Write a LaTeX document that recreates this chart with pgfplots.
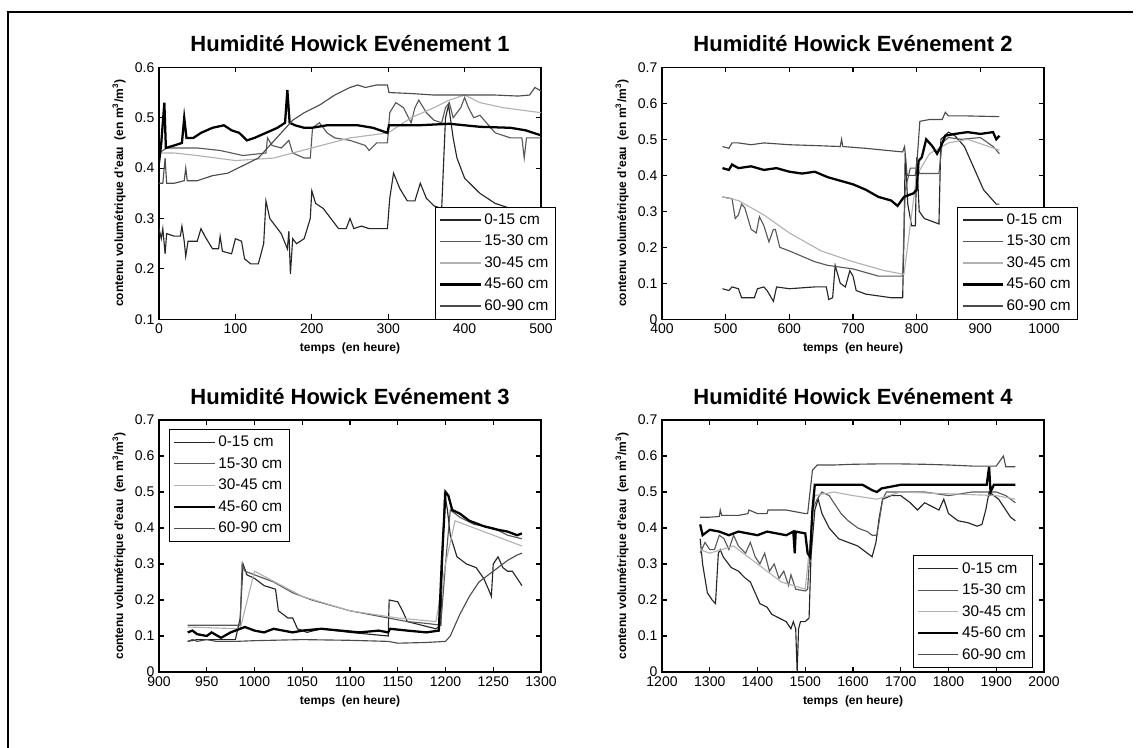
\documentclass[border=0pt]{standalone}
\usepackage{fontspec}
\setmainfont{Liberation Sans}
\usepackage{pgfplots}
\pgfplotsset{compat=1.18}

% niveaux de gris des cinq profondeurs
\definecolor{cA}{gray}{0.15}
\definecolor{cB}{gray}{0.35}
\definecolor{cC}{gray}{0.70}
\definecolor{cD}{gray}{0.0}
\definecolor{cE}{gray}{0.30}

\pgfplotsset{
  hw/.style={
    scale only axis, width=286.5pt, height=189pt,
    axis line style={line width=1.1pt},
    tick style={line width=0.8pt, black},
    major tick length=3.75pt,
    tick label style={font=\fontsize{10.5}{12}\selectfont},
    /pgf/number format/assume math mode=true,
    /pgf/number format/1000 sep={},
    y tick label style={/pgf/number format/.cd, fixed, precision=1},
    title style={font=\bfseries\fontsize{16.5}{18}\selectfont, yshift=2pt},
    label style={font=\bfseries\fontsize{9}{10}\selectfont},
    xlabel={temps\ \ (en heure)},
    ylabel={contenu volumétrique d'eau\ \ (en m\textsuperscript{3}/m\textsuperscript{3})},
    legend style={draw=black, fill=white,
      font=\fontsize{11.5}{13.5}\selectfont, row sep=2.6pt, inner sep=3pt},
    legend cell align=left,
    legend image code/.code={\draw[#1] (0cm,0cm) -- (1.06cm,0cm);},
  },
  s1/.style={cA, line width=0.85pt},
  s2/.style={cB, line width=0.85pt},
  s3/.style={cC, line width=0.85pt},
  s4/.style={cD, line width=1.7pt},
  s5/.style={cE, line width=0.85pt},
}

\begin{document}
\begin{tikzpicture}
\path[use as bounding box] (0,0) rectangle (855.75pt,561pt);
\draw[line width=1.3pt] (6pt,0) -- (6pt,552pt) -- (849.75pt,552pt);

% ---------------- Evenement 1
\begin{axis}[hw, at={(119.25pt,321.5pt)}, anchor=south west,
  title={Humidité Howick Evénement 1},
  xmin=0, xmax=500, ymin=0.1, ymax=0.6,
  xtick={0,100,...,500}, ytick={0.1,0.2,...,0.6},
  legend style={at={(0.7225,0)}, anchor=south west}]
\addplot[s1] coordinates {(0,0.28)(3,0.26)(5,0.28)(8,0.23)(10,0.27)(20,0.265)(28,0.265)(30,0.285)(33,0.255)(35,0.225)(38,0.255)(50,0.255)(55,0.28)(60,0.265)(70,0.24)(78,0.24)(80,0.265)(83,0.235)(95,0.23)(100,0.26)(108,0.255)(112,0.22)(120,0.21)(130,0.21)(137,0.25)(140,0.335)(145,0.3)(160,0.27)(168,0.24)(170,0.275)(172,0.19)(175,0.26)(180,0.25)(190,0.26)(198,0.3)(200,0.355)(205,0.33)(215,0.32)(225,0.3)(235,0.28)(245,0.28)(250,0.3)(255,0.28)(265,0.285)(275,0.28)(290,0.28)(299,0.28)(302,0.34)(307,0.39)(315,0.36)(325,0.335)(335,0.335)(342,0.37)(350,0.34)(360,0.325)(370,0.32)(375,0.5)(379,0.525)(385,0.46)(390,0.42)(400,0.38)(420,0.35)(440,0.33)(460,0.32)(480,0.31)(500,0.30)};
\addlegendentry{0-15 cm}
\addplot[s2] coordinates {(0,0.43)(10,0.44)(30,0.44)(50,0.44)(80,0.435)(110,0.425)(140,0.43)(142,0.46)(148,0.445)(160,0.44)(170,0.455)(175,0.43)(190,0.42)(198,0.42)(201,0.48)(210,0.49)(220,0.47)(230,0.46)(250,0.455)(270,0.445)(275,0.435)(285,0.45)(299,0.45)(302,0.51)(310,0.53)(320,0.52)(330,0.49)(335,0.52)(340,0.535)(350,0.51)(360,0.495)(370,0.49)(375,0.52)(380,0.53)(385,0.5)(395,0.52)(400,0.54)(405,0.52)(412,0.5)(420,0.505)(440,0.47)(460,0.46)(475,0.46)(478,0.42)(481,0.46)(500,0.46)};
\addlegendentry{15-30 cm}
\addplot[s3] coordinates {(0,0.43)(20,0.43)(50,0.425)(100,0.415)(150,0.42)(200,0.44)(250,0.46)(300,0.47)(330,0.5)(360,0.52)(380,0.535)(400,0.545)(420,0.53)(450,0.52)(500,0.51)};
\addlegendentry{30-45 cm}
\addplot[s4] coordinates {(0,0.41)(3,0.45)(7,0.53)(9,0.44)(20,0.445)(30,0.45)(33,0.5)(36,0.46)(45,0.46)(55,0.47)(70,0.48)(85,0.485)(95,0.475)(105,0.47)(115,0.455)(125,0.46)(140,0.47)(155,0.48)(165,0.49)(168,0.555)(171,0.49)(178,0.485)(190,0.48)(200,0.48)(220,0.485)(260,0.485)(280,0.48)(299,0.47)(301,0.485)(340,0.485)(380,0.488)(420,0.482)(460,0.48)(480,0.475)(490,0.47)(500,0.465)};
\addlegendentry{45-60 cm}
\addplot[s5] coordinates {(0,0.37)(5,0.37)(8,0.42)(10,0.37)(20,0.37)(33,0.375)(35,0.40)(37,0.375)(50,0.375)(70,0.385)(90,0.39)(110,0.405)(130,0.42)(145,0.445)(160,0.47)(175,0.495)(190,0.51)(210,0.525)(230,0.545)(250,0.56)(260,0.565)(270,0.56)(285,0.565)(299,0.565)(301,0.55)(330,0.548)(360,0.545)(400,0.545)(440,0.545)(470,0.543)(485,0.545)(492,0.56)(500,0.553)};
\addlegendentry{60-90 cm}
\end{axis}

% ---------------- Evenement 2
\begin{axis}[hw, at={(496.5pt,321.5pt)}, anchor=south west,
  title={Humidité Howick Evénement 2},
  xmin=400, xmax=1000, ymin=0, ymax=0.7,
  xtick={400,500,...,1000}, ytick={0,0.1,...,0.7},
  legend style={at={(0.773,0)}, anchor=south west}]
\addplot[s1] coordinates {(495,0.085)(505,0.08)(510,0.09)(520,0.085)(525,0.06)(545,0.06)(550,0.085)(560,0.09)(565,0.08)(575,0.05)(580,0.09)(600,0.085)(640,0.09)(658,0.09)(662,0.055)(668,0.06)(672,0.15)(680,0.1)(688,0.09)(695,0.135)(700,0.12)(705,0.08)(720,0.07)(760,0.06)(778,0.06)(780,0.23)(782,0.46)(786,0.32)(792,0.26)(798,0.26)(800,0.45)(804,0.3)(812,0.28)(835,0.265)(838,0.5)(850,0.52)(860,0.51)(875,0.48)(885,0.44)(895,0.4)(905,0.36)(915,0.34)(925,0.32)(930,0.32)};
\addlegendentry{0-15 cm}
\addplot[s2] coordinates {(495,0.34)(510,0.335)(515,0.28)(520,0.29)(525,0.32)(530,0.31)(540,0.25)(548,0.24)(553,0.285)(560,0.26)(568,0.215)(575,0.25)(578,0.25)(585,0.2)(600,0.19)(620,0.175)(640,0.16)(660,0.15)(680,0.145)(700,0.14)(720,0.13)(740,0.12)(760,0.12)(778,0.12)(782,0.36)(790,0.42)(800,0.42)(805,0.405)(835,0.405)(840,0.49)(850,0.505)(870,0.5)(900,0.505)(920,0.48)(930,0.46)};
\addlegendentry{15-30 cm}
\addplot[s3] coordinates {(495,0.34)(520,0.33)(560,0.29)(600,0.24)(650,0.19)(700,0.16)(750,0.135)(780,0.125)(800,0.4)(820,0.46)(850,0.49)(880,0.5)(930,0.47)};
\addlegendentry{30-45 cm}
\addplot[s4] coordinates {(495,0.42)(505,0.415)(510,0.43)(520,0.42)(540,0.425)(560,0.415)(580,0.42)(600,0.41)(620,0.405)(640,0.41)(660,0.395)(680,0.385)(700,0.375)(720,0.36)(740,0.34)(760,0.33)(770,0.315)(780,0.34)(795,0.35)(800,0.36)(803,0.44)(808,0.45)(815,0.5)(825,0.48)(832,0.46)(838,0.48)(845,0.51)(860,0.515)(880,0.52)(900,0.515)(920,0.52)(925,0.5)(930,0.51)};
\addlegendentry{45-60 cm}
\addplot[s5] coordinates {(495,0.48)(505,0.475)(510,0.49)(520,0.49)(540,0.485)(560,0.49)(600,0.485)(650,0.482)(680,0.48)(682,0.5)(684,0.48)(720,0.475)(760,0.468)(778,0.465)(781,0.48)(785,0.4)(798,0.4)(801,0.45)(805,0.55)(820,0.555)(840,0.555)(845,0.575)(850,0.565)(880,0.565)(930,0.563)};
\addlegendentry{60-90 cm}
\end{axis}

% ---------------- Evenement 3
\begin{axis}[hw, at={(119.25pt,57pt)}, anchor=south west,
  title={Humidité Howick Evénement 3},
  xmin=900, xmax=1300, ymin=0, ymax=0.7,
  xtick={900,950,...,1300}, ytick={0,0.1,...,0.7},
  legend style={at={(0.026,0.964)}, anchor=north west}]
\addplot[s1] coordinates {(930,0.085)(940,0.09)(960,0.09)(980,0.09)(985,0.15)(988,0.3)(992,0.27)(1000,0.26)(1010,0.24)(1022,0.23)(1025,0.17)(1035,0.15)(1040,0.15)(1045,0.12)(1055,0.11)(1070,0.12)(1100,0.11)(1120,0.105)(1140,0.1)(1141,0.2)(1150,0.195)(1155,0.17)(1160,0.14)(1175,0.13)(1190,0.12)(1195,0.13)(1199,0.5)(1202,0.45)(1205,0.38)(1212,0.32)(1222,0.3)(1232,0.29)(1240,0.26)(1245,0.23)(1248,0.21)(1250,0.3)(1255,0.32)(1260,0.29)(1265,0.28)(1270,0.28)(1275,0.26)(1280,0.24)};
\addlegendentry{0-15 cm}
\addplot[s2] coordinates {(930,0.13)(960,0.13)(985,0.13)(987,0.3)(990,0.28)(1000,0.27)(1020,0.25)(1040,0.22)(1060,0.2)(1080,0.185)(1100,0.17)(1120,0.16)(1140,0.15)(1160,0.14)(1180,0.135)(1195,0.13)(1200,0.3)(1205,0.45)(1215,0.43)(1230,0.41)(1250,0.4)(1265,0.38)(1280,0.37)};
\addlegendentry{15-30 cm}
\addplot[s3] coordinates {(930,0.125)(985,0.12)(1000,0.28)(1050,0.21)(1100,0.17)(1150,0.15)(1190,0.14)(1200,0.3)(1210,0.42)(1240,0.39)(1260,0.37)(1280,0.35)};
\addlegendentry{30-45 cm}
\addplot[s4] coordinates {(930,0.11)(935,0.115)(940,0.105)(950,0.1)(955,0.11)(965,0.095)(975,0.11)(985,0.12)(990,0.125)(1000,0.115)(1010,0.11)(1020,0.12)(1030,0.115)(1040,0.11)(1050,0.115)(1070,0.12)(1090,0.115)(1110,0.11)(1130,0.115)(1140,0.11)(1142,0.12)(1160,0.115)(1180,0.11)(1193,0.115)(1196,0.3)(1200,0.5)(1203,0.49)(1207,0.45)(1215,0.44)(1225,0.42)(1240,0.405)(1255,0.395)(1265,0.39)(1275,0.38)(1280,0.385)};
\addlegendentry{45-60 cm}
\addplot[s5] coordinates {(930,0.085)(935,0.09)(940,0.085)(950,0.09)(960,0.085)(980,0.085)(1000,0.087)(1050,0.09)(1100,0.088)(1140,0.085)(1150,0.08)(1180,0.082)(1200,0.085)(1205,0.1)(1215,0.16)(1225,0.21)(1235,0.25)(1245,0.27)(1255,0.29)(1265,0.31)(1275,0.325)(1280,0.33)};
\addlegendentry{60-90 cm}
\end{axis}

% ---------------- Evenement 4
\begin{axis}[hw, at={(496.5pt,57pt)}, anchor=south west,
  title={Humidité Howick Evénement 4},
  xmin=1200, xmax=2000, ymin=0, ymax=0.7,
  xtick={1200,1300,...,2000}, ytick={0,0.1,...,0.7},
  legend style={at={(0.971,0.016)}, anchor=south east}]
\addplot[s1] coordinates {(1280,0.37)(1285,0.3)(1295,0.22)(1305,0.2)(1312,0.19)(1318,0.33)(1322,0.34)(1328,0.32)(1345,0.29)(1360,0.28)(1375,0.26)(1385,0.25)(1395,0.22)(1405,0.19)(1420,0.18)(1430,0.16)(1445,0.15)(1460,0.14)(1470,0.12)(1475,0.14)(1480,0.12)(1483,0.0)(1486,0.12)(1490,0.14)(1500,0.14)(1508,0.15)(1512,0.32)(1520,0.45)(1527,0.48)(1535,0.44)(1550,0.4)(1570,0.37)(1590,0.36)(1610,0.35)(1630,0.33)(1640,0.32)(1648,0.36)(1655,0.43)(1662,0.48)(1680,0.49)(1700,0.49)(1720,0.47)(1735,0.45)(1750,0.47)(1765,0.46)(1780,0.45)(1790,0.48)(1800,0.44)(1820,0.42)(1840,0.415)(1860,0.405)(1870,0.41)(1878,0.45)(1885,0.5)(1895,0.49)(1905,0.48)(1915,0.46)(1930,0.43)(1940,0.42)};
\addlegendentry{0-15 cm}
\addplot[s2] coordinates {(1280,0.33)(1290,0.36)(1300,0.34)(1310,0.34)(1320,0.38)(1330,0.37)(1340,0.34)(1350,0.38)(1360,0.35)(1375,0.33)(1385,0.36)(1395,0.32)(1405,0.3)(1415,0.33)(1425,0.28)(1435,0.3)(1445,0.26)(1455,0.28)(1465,0.24)(1470,0.27)(1480,0.23)(1500,0.225)(1505,0.23)(1510,0.34)(1515,0.45)(1525,0.48)(1535,0.5)(1550,0.49)(1560,0.47)(1575,0.44)(1590,0.42)(1610,0.4)(1630,0.39)(1640,0.38)(1650,0.38)(1655,0.42)(1662,0.48)(1670,0.5)(1700,0.5)(1750,0.5)(1800,0.49)(1850,0.5)(1900,0.5)(1920,0.49)(1930,0.48)(1940,0.47)};
\addlegendentry{15-30 cm}
\addplot[s3] coordinates {(1280,0.34)(1300,0.33)(1350,0.35)(1400,0.3)(1450,0.25)(1500,0.23)(1520,0.49)(1560,0.5)(1600,0.49)(1650,0.48)(1700,0.5)(1800,0.495)(1900,0.49)(1940,0.48)};
\addlegendentry{30-45 cm}
\addplot[s4] coordinates {(1280,0.41)(1285,0.38)(1300,0.395)(1320,0.39)(1340,0.38)(1360,0.39)(1380,0.385)(1400,0.38)(1420,0.39)(1440,0.385)(1460,0.38)(1475,0.39)(1478,0.33)(1480,0.39)(1500,0.385)(1505,0.33)(1510,0.32)(1515,0.45)(1520,0.52)(1540,0.52)(1580,0.52)(1620,0.52)(1640,0.505)(1650,0.5)(1660,0.51)(1680,0.515)(1700,0.52)(1750,0.52)(1800,0.52)(1850,0.52)(1880,0.52)(1885,0.57)(1888,0.5)(1895,0.52)(1940,0.52)};
\addlegendentry{45-60 cm}
\addplot[s5] coordinates {(1280,0.43)(1300,0.43)(1320,0.432)(1322,0.45)(1325,0.435)(1360,0.435)(1380,0.44)(1382,0.45)(1400,0.44)(1420,0.44)(1422,0.45)(1440,0.45)(1460,0.45)(1480,0.445)(1500,0.44)(1505,0.44)(1510,0.5)(1515,0.56)(1525,0.575)(1560,0.575)(1600,0.577)(1650,0.578)(1700,0.578)(1750,0.577)(1800,0.575)(1850,0.572)(1900,0.572)(1915,0.6)(1920,0.57)(1940,0.57)};
\addlegendentry{60-90 cm}
\end{axis}
\end{tikzpicture}
\end{document}
